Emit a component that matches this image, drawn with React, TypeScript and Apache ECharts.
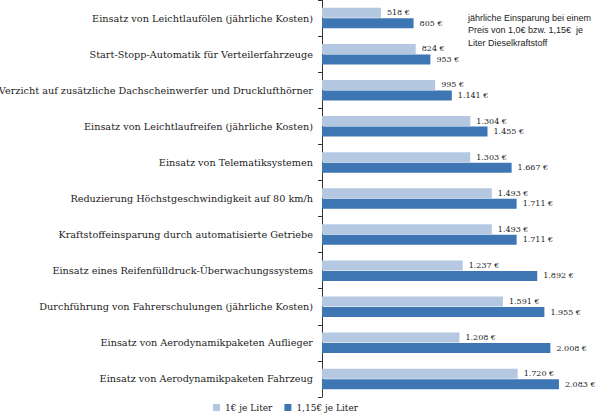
import React, { useEffect, useRef } from "react";
import * as echarts from "echarts";

const categories = [
  "Einsatz von Leichtlaufölen (jährliche Kosten)",
  "Start-Stopp-Automatik für Verteilerfahrzeuge",
  "Verzicht auf zusätzliche Dachscheinwerfer und Drucklufthörner",
  "Einsatz von Leichtlaufreifen (jährliche Kosten)",
  "Einsatz von Telematiksystemen",
  "Reduzierung Höchstgeschwindigkeit auf 80 km/h",
  "Kraftstoffeinsparung durch automatisierte Getriebe",
  "Einsatz eines Reifenfülldruck-Überwachungssystems",
  "Durchführung von Fahrerschulungen (jährliche Kosten)",
  "Einsatz von Aerodynamikpaketen Auflieger",
  "Einsatz von Aerodynamikpaketen Fahrzeug",
];
const series1Name = "1€ je Liter";
const series2Name = "1,15€ je Liter";
const values1 = [518, 824, 995, 1304, 1303, 1493, 1493, 1237, 1591, 1208, 1720];
const values2 = [805, 953, 1141, 1455, 1667, 1711, 1711, 1892, 1955, 2008, 2083];
const noteLines = [
  "jährliche Einsparung bei einem",
  "Preis von 1,0€ bzw. 1,15€  je",
  "Liter Dieselkraftstoff",
];

const fmt = (v: number) => {
  const s = String(Math.round(v));
  const withSep = s.length > 3 ? s.slice(0, s.length - 3) + "." + s.slice(s.length - 3) : s;
  return withSep + " €";
};

const serif = "DejaVu Serif";

export default function App() {
  const ref = useRef<HTMLDivElement>(null);
  useEffect(() => {
    if (!ref.current) return;
    const chart = echarts.init(ref.current, undefined, { renderer: "svg" });
    chart.setOption({
      animation: false,
      backgroundColor: "#ffffff",
      grid: {
        left: 322,
        right: 0,
        top: 0,
        height: 397,
        containLabel: false,
        outerBoundsMode: "none",
      },
      xAxis: {
        type: "value",
        min: 0,
        max: 2400,
        show: false,
      },
      yAxis: {
        type: "category",
        inverse: true,
        data: categories,
        axisLine: { show: true, lineStyle: { color: "#333333", width: 1 } },
        axisTick: { show: true, length: 4, lineStyle: { color: "#333333" } },
        axisLabel: {
          fontFamily: serif,
          fontSize: 9.7,
          color: "#222222",
          margin: 9,
        },
        splitLine: { show: false },
      },
      legend: {
        bottom: 0,
        left: 208,
        itemWidth: 7,
        itemHeight: 7,
        itemGap: 12,
        icon: "rect",
        textStyle: { fontFamily: serif, fontSize: 9, color: "#222222" },
        data: [series1Name, series2Name],
      },
      graphic: noteLines.map((t, i) => ({
        type: "text",
        left: 468,
        top: 13 + i * 12.5,
        style: {
          text: t,
          fontFamily: "Liberation Sans",
          fontSize: 9,
          fill: "#222222",
        },
      })),
      series: [
        {
          name: series1Name,
          type: "bar",
          data: values1,
          barWidth: 10,
          barGap: "5%",
          itemStyle: { color: "#b4c9e1" },
          label: {
            show: true,
            position: "right",
            distance: 6,
            formatter: (p: any) => fmt(p.value),
            fontFamily: serif,
            fontSize: 8,
            color: "#222222",
          },
        },
        {
          name: series2Name,
          type: "bar",
          data: values2,
          barWidth: 10,
          barGap: "5%",
          itemStyle: { color: "#3e76b4" },
          label: {
            show: true,
            position: "right",
            distance: 6,
            formatter: (p: any) => fmt(p.value),
            fontFamily: serif,
            fontSize: 8,
            color: "#222222",
          },
        },
      ],
    });
    return () => chart.dispose();
  }, []);
  return (
    <div
      ref={ref}
      style={{ position: "absolute", left: 0, top: 0, width: 595, height: 417 }}
    />
  );
}
